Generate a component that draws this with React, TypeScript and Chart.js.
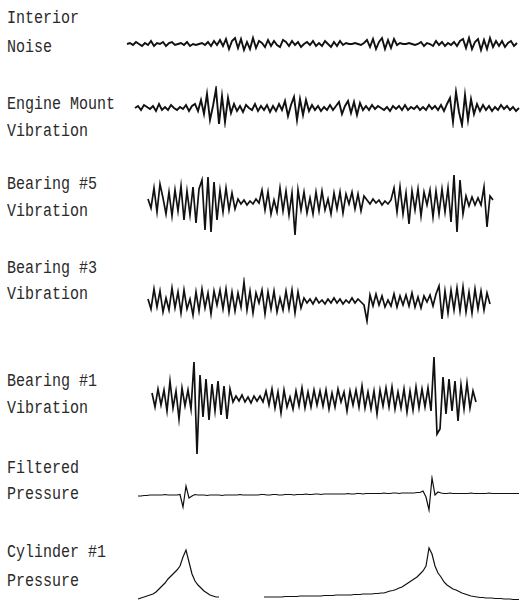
import React, { useEffect, useRef } from "react";
import { Chart, registerables } from "chart.js";

Chart.register(...registerables);

// ---- Data (deflection from each trace's baseline, arbitrary units; time axis in ms) ----
const TIME_STEP_MS = 3;
const TIME_MIN_MS = 0;
const TIME_MAX_MS = 400;

const interiorNoise = [
  0, 1, -1, 2, 0, -2, 1, -1, 3, -2, 1, 0, 2, -2, 1, 2, -1, 0, 1, -1, 2, -2, 0, -1, 0, 1, -1, 2, -2, 3, -1,
  4, -2, 5, -5, 3, 6, -4, 5, -6, 2, -5, 6,
  -4, 3, 1, -3, 4, -2, 3, -1, -3, 4, 2,
  -2, 3, -1, 2, -3, 0, 2, -1, 3, -2, 1, -2, 3, 0, -3, 2, -2, 3, -1,
  1, 0, 0, 1, 0, -1, 1,
  4, -3, 5, -5, 2, 6, -5, 4, -4, 5,
  -1, 1, 0, 0, 1, 0, -1, 0,
  2, -2, 1, 0, -2, 3, -1, 2, -2, 1, -1, 2, -2, 3,
  5, -4, 6, -5, 2, 5, -6, 4, -5, 6,
  -3, 3, -2, 3, -3, 1, 3, -2, 1,
];

const engineMountVibration = [
  0, 2, -2, 3, 1, -1, 2, -3, 4, -2, 1, -2, 3, 0, -2, 1, -1, 3, -3, 2, 4, -3,
  8, -6, 14, -12, 2, 19, -16, 12, -14, 10,
  -5, 4, -3, 2, -4, 3, 0, -2, 4, -3, 2, -2, 3, -4, 2, -3, 4, -2,
  7, -8, 3, 11, -12, 9, -7, 8,
  -3, 3, -2, 2, -3, 1, -2, 3, -2, 2,
  6, -6, 2, 7, -5, 6, -7, 5,
  -2, 2, -2, 3, -1, 2, 0, -2, 1, -3, 2, -1, 2, -2, 3, -2, 1, -1, 2, -2, 1, -2, 3, -1, 2, -2, 3, -3, 4,
  10, -14, 16, -4, -17, 13, -12, 9,
  -6, 4, -3, 3, -2, 2, -3, 1, -2, 3, -1, 2, -2, 1, -3, 0,
];

const bearing5Vibration = [
  3, -6, 14, -10, 18, 4, -12, 10, -14, 12, -9, 16, -18, 11, -13, 15, -21,
  13, 22, -28, 25, -30, 20, -18,
  12, -10, 14, -8, 9, -7,
  3, -2, 2, -3, 1, -2, 3, -1,
  12, -8, 10, -12, 2, -10, 14, -9, 11, -13, 9, -33, 12, -8, 10, -11, 4, -12, 10,
  -9, 11, -8, 3, -12, 9, -7, 10, -11, 8, -2, 10, -7, 8, -9, 6,
  2, -2, 3, -1, 2, -3, 1, -2, 2,
  14, -10, 15, -12, 9, -22, 11, -8, 13, -14, 10, -3, 12, -15, 11, -12, 13, -10, 14,
  -20, 27, -30, 22,
  -12, 6, -4, 5, -3, 4,
  -3, 15, -25, 6, 2,
];

const bearing3Vibration = [
  2, -8, 12, -6, 10, -11, 3, -9, 13, -7, 9, -12, 11, -8, 2, -14, 9, -10, 12, -7, 8, -13, 10, -4, 11, -8, 12, -11, 9, -10, 8,
  -6, 19, -9, 10, -12, 8, -2, 11, -13, 9, -8, 10, -11, 3, -9, 10, -8, 11, -12, 9, -7,
  3, -2, 2, -3, 3, -2, 1, -3, 2, -2, 3, -2, 2, -3, 1, -2, 3, -2, 2, -1,
  -4, -20, 6, -5, 7, -4, 5, -6, 1, -5, 7, -6, 5, -4, 6, -5, 8, -6, 4, -7, 5, -1, 6, -5, 7,
  15, -18, 10, -12, 11, -9, 13, -10, 14, -11, 9, -12, 12, -8, 10, -9, 8, -3,
];

const bearing1Vibration = [
  6, -8, 10, -6, 9, -12, 18, -9, 8, -20, 11, -7, 9, -10,
  37, -55,
  24, -18, 20, -21, 15, -12, 18, -16, 13, -20, 10,
  -3, 3, -2, 4, -3, 2, -4, 3, -2, 3, -3,
  8, -6, 10, -9, 7, -14, 9, -8, 2, -10, 8, -7, 11, -9, 7, -8, 9, -6,
  8, -7, 9, -10, 6, -8, 10, -3, 7, -12, 8, -6, 9, -8, 13, -9, 7, -10, 8, -15, 9, -7, 11, -8, 12, -10, 7, -9, 10, -13, 8, -11, 12, -9, 10, -8, 11,
  -12, 42, -35,
  -30, 22, -15, 20, -12, 18, -22, 14, -10, 16, -9, 8, -3,
];

const filteredPressure = [
  -1, -1, -0.5, -0.5, 0, 0, 0, 0, 0, 0.5, 0, 0, 0, 0, 0.5,
  -12, 9, -3, -1,
  0.5, 0, 0, 0, -0.5, 0, 0, 0, 0, -0.5,
  0, 0, 0, 0, 0, 0.5, 0, 0, 0, 0,
  0, 0, 0.5, 0.5, 0, 0, 0.5, 0.5, 0, 0,
  0.5, 0.5, 0.5, 0, 0.5, 0.5, 0.5, 1, 0.5, 0.5,
  1, 1, 0.5, 1, 1, 1, 1, 1, 1, 1,
  1, 1.5, 1, 1, 1.5, 1.5, 1, 1.5, 1.5, 1.5,
  1.5, 1.5, 1.5, 2, 1.5, 1.5, 2, 2, 1.5, 2,
  2, 2, 2, 2, 2.5, 2.5,
  4, -2, -15, 17, 0, 3, 2,
  1.5, 1.5, 2, 1.5, 1.5, 1.5, 1.5, 1.5, 1.5, 2, 1.5, 1.5, 1.5, 1.5, 1.5, 2, 1.5, 1.5, 1.5, 1.5, 1.5, 1.5, 1.5, 1.5, 1.5, 1.5,
];

const cylinder1Pressure: (number | null)[] = [
  -1, 0, 1, 2, 3, 4, 6, 9, 12, 15, 19, 22, 25, 28, 32, 41, 48, 36, 24, 17, 13, 10, 7, 5, 3, 2, 1, 1,
  null, null, null, null, null, null, null, null, null, null, null, null, null, null,
  1, 1, 1, 1, 1, 1, 1, 1.5, 1.5, 1.5,
  1.5, 1.5, 2, 2, 2, 2, 2, 2, 2, 2,
  2.5, 2.5, 2.5, 2.5, 3, 3, 3, 3, 3, 3,
  3.5, 3.5, 3.5, 4, 4, 4, 4, 4.5, 4.5,
  5, 5, 6, 7, 7.5, 8.5, 10, 11, 13, 15, 17, 19, 21, 24, 27, 32, 50, 44, 32, 25, 21, 16, 13, 11, 9, 8, 6.5, 5, 4, 3, 2, 1.5, 1,
  0.5, 0.5, 0, 0, 0, -0.5, -0.5, -0.5, -1, -1, -1, -1.5, -1.5, -1.5,
];

const traceLabels = [
  ["Interior", "Noise"],
  ["Engine Mount", "Vibration"],
  ["Bearing #5", "Vibration"],
  ["Bearing #3", "Vibration"],
  ["Bearing #1", "Vibration"],
  ["Filtered", "Pressure"],
  ["Cylinder #1", "Pressure"],
];
const traceStartMs = [6, 14, 27, 27, 31, 17, 17];
const traceValues = [
  interiorNoise,
  engineMountVibration,
  bearing5Vibration,
  bearing3Vibration,
  bearing1Vibration,
  filteredPressure,
  cylinder1Pressure,
];

// ---- Layout (styling only) ----
const PLOT_LEFT = 121;
const PLOT_WIDTH = 400;
const rowLayout = [
  { baseline: 44, up: 10, down: 10, labelY: [19, 48], lw: 1.9 },
  { baseline: 108, up: 22, down: 20, labelY: [105, 132], lw: 1.9 },
  { baseline: 202, up: 32, down: 34, labelY: [185, 212], lw: 1.7 },
  { baseline: 301, up: 24, down: 24, labelY: [269, 295], lw: 1.7 },
  { baseline: 399, up: 42, down: 58, labelY: [382, 409], lw: 1.7 },
  { baseline: 495, up: 20, down: 18, labelY: [469, 495], lw: 1.2 },
  { baseline: 598, up: 52, down: 3, labelY: [553, 582], lw: 1.2 },
];

function Trace({ idx }: { idx: number }) {
  const ref = useRef<HTMLCanvasElement | null>(null);
  const lay = rowLayout[idx];
  const height = lay.up + lay.down;
  useEffect(() => {
    if (!ref.current) return;
    const pts = traceValues[idx].map((v, i) => ({ x: traceStartMs[idx] + i * TIME_STEP_MS, y: v }));
    const chart = new Chart(ref.current, {
      type: "line",
      data: {
        datasets: [
          {
            data: pts as any,
            borderColor: "#111",
            borderWidth: lay.lw,
            pointRadius: 0,
            tension: 0,
            fill: false,
            spanGaps: false,
            clip: false as any,
          },
        ],
      },
      options: {
        animation: false,
        responsive: false,
        events: [],
        layout: { padding: 0 },
        plugins: { legend: { display: false }, tooltip: { enabled: false } },
        scales: {
          x: { type: "linear", min: TIME_MIN_MS, max: TIME_MAX_MS, display: false },
          y: { type: "linear", min: -lay.down, max: lay.up, display: false },
        },
      },
    });
    return () => chart.destroy();
  }, [idx]);
  return (
    <canvas
      ref={ref}
      width={PLOT_WIDTH}
      height={height}
      style={{
        position: "absolute",
        left: PLOT_LEFT,
        top: lay.baseline - lay.up,
        width: PLOT_WIDTH,
        height,
      }}
    />
  );
}

export default function App() {
  return (
    <div
      style={{
        position: "absolute",
        left: 0,
        top: 0,
        width: 521,
        height: 601,
        overflow: "hidden",
        background: "#fff",
      }}
    >
      {traceLabels.map((lines, i) =>
        lines.map((t, j) => (
          <div
            key={`${i}-${j}`}
            style={{
              position: "absolute",
              left: 7,
              top: rowLayout[i].labelY[j] - 8,
              height: 16,
              lineHeight: "16px",
              fontFamily: "'Liberation Mono', 'DejaVu Sans Mono', monospace",
              fontSize: 15,
              color: "#2a2a2a",
              whiteSpace: "pre",
              transform: "scaleY(1.25)",
              transformOrigin: "left center",
            }}
          >
            {t}
          </div>
        ))
      )}
      {traceValues.map((_, i) => (
        <Trace key={i} idx={i} />
      ))}
    </div>
  );
}
